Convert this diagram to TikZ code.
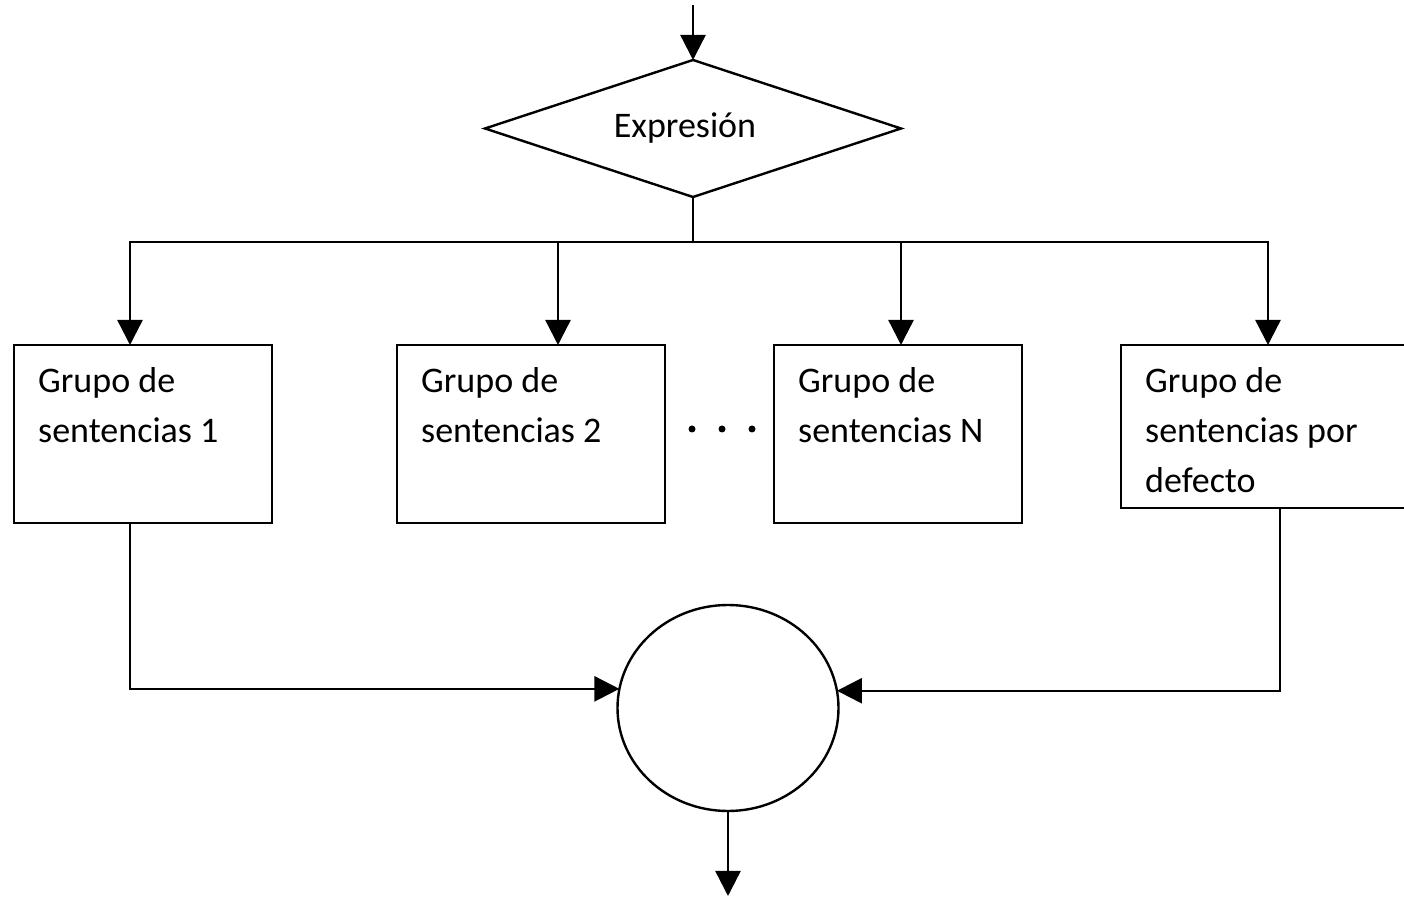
\documentclass[tikz,border=0pt]{standalone}
\usepackage{fontspec}
\setmainfont{Carlito}
\usetikzlibrary{shapes.geometric,arrows.meta}
\begin{document}
\begin{tikzpicture}[x=0.5pt,y=-0.5pt,
  line width=1.2pt,
  box/.style={draw, rectangle, inner sep=0pt, outer sep=0pt},
  lbl/.style={inner sep=0pt, anchor=base west, align=flush left, text width=125pt,
    font=\fontsize{18pt}{25pt}\selectfont},
  arr/.style={-{Triangle[width=12.5pt,length=12.5pt]}},
]
\useasboundingbox (0,0) rectangle (1404,897);
% decision
\node[draw, diamond, shape aspect=3.04, minimum width=208pt, minimum height=68.5pt, inner sep=0pt, outer sep=0pt,
  font=\fontsize{18pt}{21pt}\selectfont] (d) at (693,128.5) {Expresión\hspace*{8pt}};
% boxes
\node[box, minimum width=129pt, minimum height=89pt] (b1) at (143,434) {};
\node[box, minimum width=134pt, minimum height=89pt] (b2) at (531,434) {};
\node[box, minimum width=124pt, minimum height=89pt] (b3) at (898,434) {};
\node[box, minimum width=144.5pt, minimum height=81.5pt] (b4) at (1265.5,426.5) {};
% texts
\node[lbl] (t1) at ([xshift=11.5pt,yshift=-24pt]b1.north west) {Grupo de\\sentencias 1};
\node[lbl] (t2) at ([xshift=11.5pt,yshift=-24pt]b2.north west) {Grupo de\\sentencias 2};
\node[lbl] (t3) at ([xshift=11.5pt,yshift=-24pt]b3.north west) {Grupo de\\sentencias N};
\node[lbl] (t4) at ([xshift=11.5pt,yshift=-24pt]b4.north west) {Grupo de\\sentencias por\\defecto};
% dots
\fill (692,429) circle[radius=1.75pt] (722,429) circle[radius=1.75pt] (752,429) circle[radius=1.75pt];
% join
\node[draw, ellipse, minimum width=110.5pt, minimum height=103pt, inner sep=0pt, outer sep=0pt] (c) at (728,708) {};
% connectors
\coordinate (top) at (693,5);
\coordinate (j) at (693,242);
\coordinate (out) at (728,896);
\draw[arr] (top) -- (d.north);
\draw (d.south) -- (j);
\draw[arr] (j) -| ([xshift=58pt]b1.north west);
\draw[arr] (j) -| ([xshift=80.5pt]b2.north west);
\draw[arr] (j) -| ([xshift=63.5pt]b3.north west);
\draw[arr] (j) -| ([xshift=73.5pt]b4.north west);
\draw[arr] ([xshift=58pt]b1.south west) |- (c.170.6);
\draw[arr] ([xshift=79.5pt]b4.south west) |- (c.9.4);
\draw[arr] (c.south) -- (out);
\end{tikzpicture}
\end{document}
